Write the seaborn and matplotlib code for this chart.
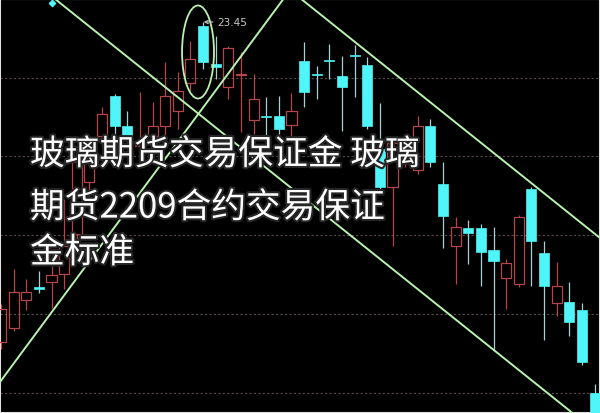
import matplotlib
matplotlib.use("Agg")
import matplotlib.pyplot as plt
import matplotlib.patheffects as pe
from matplotlib.patches import Ellipse
import numpy as np
import seaborn as sns

# datos de las velas (precio)
highs = [20.63, 20.98, 20.88, 20.96, 21.01, 21.68, 22.10, 22.18, 22.60, 22.73, 22.56, 22.75,
         22.65, 23.05, 22.95, 23.26, 23.45, 23.31, 23.21, 23.15, 22.93, 22.70, 22.71, 22.74,
         23.25, 23.01, 23.23, 23.11, 23.22, 23.10, 22.64, 22.26, 22.33, 22.51, 22.48, 22.05,
         21.50, 21.47, 21.43, 21.40, 21.08, 21.52, 21.80, 21.26, 21.05, 20.85, 20.64, 19.83]
opens = [20.25, 20.39, 20.67, 20.80, 20.85, 20.93, 21.33, 21.85, 22.31, 22.71, 22.41, 22.21,
         22.31, 22.41, 22.56, 22.84, 23.41, 23.03, 22.80, 22.92, 22.47, 22.51, 22.51, 22.42,
         23.06, 22.93, 23.07, 22.91, 23.12, 23.02, 22.18, 21.80, 22.08, 21.97, 22.41, 21.83,
         21.21, 21.39, 21.39, 21.17, 20.89, 20.83, 21.78, 21.14, 20.64, 20.65, 20.57, 19.74]
closes = [20.58, 20.75, 20.75, 20.78, 20.92, 21.21, 22.05, 22.08, 22.53, 22.41, 22.28, 22.26,
          22.41, 22.71, 22.76, 23.08, 23.05, 23.00, 23.19, 22.93, 22.68, 22.50, 22.38, 22.56,
          22.75, 22.92, 23.06, 22.80, 23.11, 22.41, 21.80, 22.24, 22.23, 22.41, 22.05, 21.51,
          21.40, 21.34, 21.15, 21.06, 21.04, 21.50, 21.26, 20.81, 20.81, 20.45, 20.05, 19.38]
lows = [20.18, 20.36, 20.57, 20.74, 20.59, 20.78, 21.26, 21.63, 22.20, 22.33, 22.23, 22.11,
        22.18, 22.28, 22.38, 22.76, 22.98, 22.88, 22.68, 22.35, 22.33, 22.30, 22.33, 22.29,
        22.60, 22.68, 22.88, 22.36, 22.70, 22.38, 21.73, 21.21, 22.00, 21.93, 22.00, 21.19,
        20.83, 21.03, 20.81, 20.16, 20.58, 20.80, 20.81, 20.27, 20.51, 20.31, 20.02, 19.28]

# lineas de tendencia dibujadas a mano (indice de vela, precio)
linea_a_x = [4.28, 47.43]
linea_a_y = [23.68, 19.32]
linea_b_x = [-0.08, 22.36]
linea_b_y = [19.85, 23.68]
linea_c_x = [23.77, 47.43]
linea_c_y = [23.68, 21.29]

niveles_grid = [22.89, 22.11, 21.32, 20.53, 19.74]
precio_max = 23.45
idx_max = 16

titulo = ["玻璃期货交易保证金 玻璃", "期货2209合约交易保证", "金标准"]

rojo = "#b5454a"
cian = "#4ff5f8"
mecha_cian = "#a9cfd6"
verde = "#b9f2b0"

sns.set_style("dark", {"axes.facecolor": "black", "figure.facecolor": "black"})
plt.rcParams["font.family"] = ["Noto Sans CJK SC", "DejaVu Sans"]

fig = plt.figure(figsize=(6, 4.14), dpi=100)
ax = fig.add_axes([0, 0, 1, 1])
ax.set_facecolor("black")

x = np.arange(len(opens))
o = np.array(opens)
c = np.array(closes)
h = np.array(highs)
l = np.array(lows)
sube = c >= o

# lineas punteadas horizontales
for nivel in niveles_grid:
    ax.axhline(nivel, color="#5a4a4a", lw=0.8, ls=(0, (2, 2)), zorder=1)

# velas rojas (huecas): mecha arriba y abajo del cuerpo
top = np.maximum(o, c)
bot = np.minimum(o, c)
ax.vlines(x[sube], top[sube], h[sube], color=rojo, lw=0.9, zorder=2)
ax.vlines(x[sube], l[sube], bot[sube], color=rojo, lw=0.9, zorder=2)
ax.bar(x[sube], (top - bot)[sube], bottom=bot[sube], width=0.8,
       facecolor="none", edgecolor=rojo, linewidth=0.9, zorder=3)

# velas cian (rellenas)
baja = ~sube
ax.vlines(x[baja], l[baja], h[baja], color=mecha_cian, lw=0.9, zorder=2)
ax.bar(x[baja], np.maximum((top - bot)[baja], 0.012), bottom=bot[baja], width=0.8,
       color=cian, edgecolor=cian, linewidth=0.5, zorder=3)

# lineas de tendencia
for lx, ly in [(linea_a_x, linea_a_y), (linea_b_x, linea_b_y), (linea_c_x, linea_c_y)]:
    sns.lineplot(x=lx, y=ly, ax=ax, color=verde, lw=1.4, zorder=4)

# ovalo alrededor del maximo
ax.add_patch(Ellipse((15.6, 23.15), width=2.53, height=0.93, fill=False,
                     edgecolor=verde, lw=1.3, zorder=4))

ax.annotate(f"{precio_max:.2f}", xy=(idx_max + 0.05, precio_max), xytext=(17.15, precio_max),
            color="#c8c8c8", fontsize=7.5, va="center", family="DejaVu Sans",
            arrowprops=dict(arrowstyle="->", color="#c8c8c8", lw=0.8, mutation_scale=6,
                            shrinkA=1, shrinkB=0), zorder=5)
ax.scatter([4.04], [23.64], marker="D", s=10, color=cian, zorder=5)

ax.set_xlim(-0.08, 47.43)
ax.set_ylim(19.54, 23.68)
ax.set_xticks([])
ax.set_yticks([])
ax.set_xlabel("")
ax.set_ylabel("")
for s in ax.spines.values():
    s.set_visible(True)
    s.set_color("#e0e0e0")
    s.set_linewidth(1.5)

# texto superpuesto
ys = [0.623, 0.495, 0.386]
for t, yy in zip(titulo, ys):
    ax.text(0.05, yy, t, transform=ax.transAxes, fontsize=25, color="white",
            fontweight="normal", va="center", ha="left", zorder=6,
            path_effects=[pe.withStroke(linewidth=3, foreground="#262626")])

fig.savefig("out.png", dpi=100, facecolor="black")
